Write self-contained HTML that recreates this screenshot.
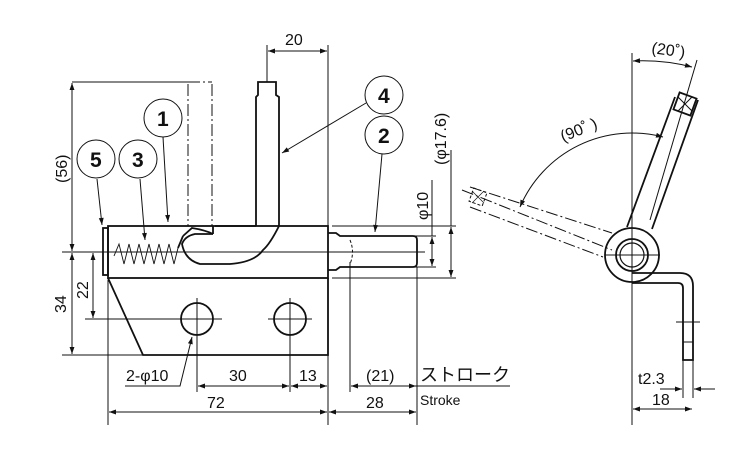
<!DOCTYPE html>
<html><head><meta charset="utf-8"><style>
html,body{margin:0;padding:0;background:#fff}
svg{display:block}
text{font-family:"Liberation Sans","Noto Sans CJK JP",sans-serif;fill:#111}
</style></head><body>
<svg width="750" height="450" viewBox="0 0 750 450" xmlns="http://www.w3.org/2000/svg">
<defs>
<marker id="a" viewBox="0 0 10 10" refX="10" refY="5" markerWidth="9" markerHeight="7" orient="auto-start-reverse" markerUnits="userSpaceOnUse"><path d="M0,1.5 L10,5 L0,8.5 z" fill="#111"/></marker>
</defs>
<g fill="none" stroke="#111" stroke-width="1">
<path d="M267,45V82 M328,45V226 M72,82H188 M62,252H118 M62,355H143 M85,319H220 M332,226H456 M332,278H456 M410,236H436 M410,267H436 M108,280V425 M197,300V392 M290,300V392 M328,280V425 M350,262V392 M417,267V425"/>
<path d="M268,51H327" marker-start="url(#a)" marker-end="url(#a)"/>
<path d="M72,83V251" marker-start="url(#a)" marker-end="url(#a)"/>
<path d="M72,253V354" marker-start="url(#a)" marker-end="url(#a)"/>
<path d="M93,253V318" marker-start="url(#a)" marker-end="url(#a)"/>
<path d="M432,237V266" marker-start="url(#a)" marker-end="url(#a)"/>
<path d="M451,227V277" marker-start="url(#a)" marker-end="url(#a)"/>
<path d="M451,150V226"/>
<path d="M432,180V236"/>
<path d="M198,386H289" marker-start="url(#a)" marker-end="url(#a)"/>
<path d="M291,386H327" marker-start="url(#a)" marker-end="url(#a)"/>
<path d="M109,412H327" marker-start="url(#a)" marker-end="url(#a)"/>
<path d="M329,412H416" marker-start="url(#a)" marker-end="url(#a)"/>
<path d="M351,386H416" marker-start="url(#a)" marker-end="url(#a)"/>
<path d="M416,386H510"/>
<path d="M65,252H425 M197,298V340 M290,298V340 M172,319H222 M268,319H312"/>
<path d="M125,386H180 L192,337" marker-end="url(#a)"/>
<path d="M163,137L168,222" marker-end="url(#a)"/>
<path d="M140,179L145,240" marker-end="url(#a)"/>
<path d="M97,179L102,225" marker-end="url(#a)"/>
<path d="M366,103L282,153" marker-end="url(#a)"/>
<path d="M382,154L375,232" marker-end="url(#a)"/>
<circle cx="163" cy="118" r="19"/><circle cx="96" cy="159" r="19"/><circle cx="138" cy="159" r="19"/><circle cx="384" cy="95" r="19"/><circle cx="384" cy="135" r="19"/>
</g>
<g fill="none" stroke="#111" stroke-width="1.8">
<rect x="108" y="226" width="220" height="52"/>
<path d="M108,278 L143,355 H328 V278"/>
<rect x="103" y="228" width="5" height="47"/>
<circle cx="197" cy="319" r="16"/><circle cx="290" cy="319" r="16"/>
<path d="M328,233 H336 L340,236 H413 Q417,236 417,240 V263 Q417,267 413,267 H340 L336,270 H328"/>
<path d="M256,226 V97 L258,95 V82 H276 V95 L279,97 V226"/>
<path d="M279,226 Q270,244 263,250 Q255,262 230,264 H200 Q185,260 182,244 Q185,236 195,234 H213 M183,236 L178,248 M213,234 V226 M256,226 H215"/>
<path d="M183,236 L192,228 Q205,230 213,234"/>
</g>
<path d="M188,84V226 M212,84V226 M188,82H212" fill="none" stroke="#111" stroke-width="1" stroke-dasharray="12,3,2,3"/>
<path d="M114,256 L119,244 L124,264 L129,244 L134,264 L139,244 L144,264 L149,244 L154,264 L159,244 L164,264 L169,244 L174,264 L178,248" fill="none" stroke="#111" stroke-width="0.9"/>
<path d="M350,240 Q355,252 350,264" fill="none" stroke="#111" stroke-width="1" stroke-dasharray="3,2"/>
<g fill="none" stroke="#111" stroke-width="1">
<path d="M632,53V425 M683,290V398 M693,290V398 M605,255H660 M676,322H700"/>
<path d="M633,61 A197,197 0 0 1 692,67" marker-start="url(#a)" marker-end="url(#a)"/>
<path d="M663,137 A122,122 0 0 0 520,207" marker-start="url(#a)" marker-end="url(#a)"/>
<path d="M660,389H682" marker-end="url(#a)"/>
<path d="M715,389H694" marker-end="url(#a)"/>
<path d="M633,409H692" marker-start="url(#a)" marker-end="url(#a)"/>
<path d="M697,60L650,220"/>
<path d="M470,187L612,233 M470,207L603,257 M462,190L612,250" stroke-dasharray="12,3,2,3"/>
<rect x="-7" y="-7" width="14" height="14" transform="translate(478,197) rotate(20)" stroke-dasharray="3,2"/>
<path d="M472,191L484,203M484,191L472,203" stroke-width="0.7"/>
</g>
<g fill="none" stroke="#111" stroke-width="1.8">
<path d="M627,227L675,97 M652,229L698,100"/>
<rect x="-9" y="-9" width="18" height="18" transform="translate(685,104) rotate(20)"/>
<path d="M678,97L692,111M692,97L678,111" stroke-width="1"/>
<circle cx="632" cy="255" r="27"/>
<circle cx="632" cy="255" r="16"/><circle cx="632" cy="255" r="12" stroke-width="1.2"/>
<path d="M632,273 H680 Q693,273 693,286 V360 H683 V288 Q683,283 678,283 H632"/>
<path d="M683,322H693 M683,342H693" stroke-width="1"/>
</g>
<g font-size="16">
<text x="285" y="45">20</text>
<text x="157" y="126" font-size="21" font-weight="bold">1</text>
<text x="90" y="167" font-size="21" font-weight="bold">5</text>
<text x="132" y="167" font-size="21" font-weight="bold">3</text>
<text x="378" y="103" font-size="21" font-weight="bold">4</text>
<text x="378" y="143" font-size="21" font-weight="bold">2</text>
<text transform="translate(67,183) rotate(-90)">(56)</text>
<text transform="translate(66,313) rotate(-90)">34</text>
<text transform="translate(88,299) rotate(-90)">22</text>
<text transform="translate(428,220) rotate(-90)">φ10</text>
<text transform="translate(446,165) rotate(-90)">(φ17.6)</text>
<text x="126" y="381">2-φ10</text>
<text x="229" y="381">30</text>
<text x="299" y="381">13</text>
<text x="207" y="408">72</text>
<text x="366" y="408">28</text>
<text x="366" y="381">(21)</text>
<text x="420" y="381" font-size="18">ストローク</text>
<text x="420" y="405" font-size="14">Stroke</text>
<text transform="translate(651,53) rotate(8)">(20˚)</text>
<text transform="translate(563,142) rotate(-22)">(90˚ )</text>
<text x="638" y="384">t2.3</text>
<text x="652" y="405">18</text>
</g>
</svg>
</body></html>
